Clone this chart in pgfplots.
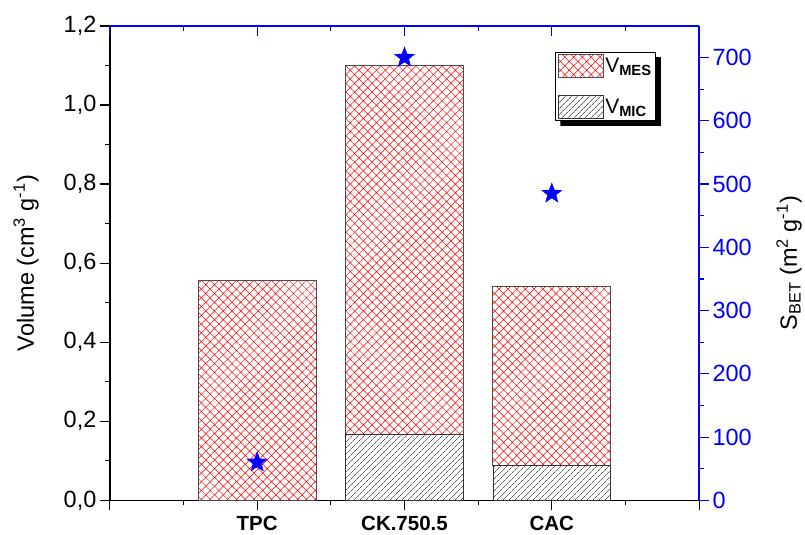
\documentclass[border=0pt]{standalone}
\usepackage{pgfplots}
\pgfplotsset{compat=1.18}
\usepackage{fontspec}
\setmainfont{Liberation Sans}
\usetikzlibrary{patterns.meta}
\pgfdeclareplotmark{fstar}{%
 \pgfpathmoveto{\pgfpointpolar{90}{\pgfplotmarksize}}%
 \pgfpathlineto{\pgfpointpolar{126}{0.42\pgfplotmarksize}}%
 \pgfpathlineto{\pgfpointpolar{162}{\pgfplotmarksize}}%
 \pgfpathlineto{\pgfpointpolar{198}{0.42\pgfplotmarksize}}%
 \pgfpathlineto{\pgfpointpolar{234}{\pgfplotmarksize}}%
 \pgfpathlineto{\pgfpointpolar{270}{0.42\pgfplotmarksize}}%
 \pgfpathlineto{\pgfpointpolar{306}{\pgfplotmarksize}}%
 \pgfpathlineto{\pgfpointpolar{342}{0.42\pgfplotmarksize}}%
 \pgfpathlineto{\pgfpointpolar{18}{\pgfplotmarksize}}%
 \pgfpathlineto{\pgfpointpolar{54}{0.42\pgfplotmarksize}}%
 \pgfpathclose
 \pgfusepathqfillstroke}
\begin{document}
\begin{tikzpicture}[font=\fontsize{23.5}{27}\selectfont]
\pgfplotsset{
  base/.style={
    width=590pt, height=475pt, scale only axis,
    xmin=0, xmax=4,
    /pgf/number format/assume math mode=true,
    major tick length=10pt, minor tick length=5pt,
    tick align=outside,
    axis line style={line width=1.4pt},
    every tick/.style={line width=1.2pt},
  }
}
\begin{axis}[base, name=ax,
  axis x line*=bottom, axis y line*=left,
  ymin=0, ymax=1.2,
  ytick={0,0.2,0.4,0.6,0.8,1.0,1.2},
  minor y tick num=1,
  xtick={0,1,2,3,4}, minor x tick num=1,
  xticklabels={,TPC,CK.750.5,CAC,},
  xticklabel style={font=\fontsize{20.5}{24}\selectfont\bfseries, yshift=-2pt},
  yticklabel style={/pgf/number format/.cd, use comma, fixed, fixed zerofill, precision=1},
  ylabel={Volume (cm\textsuperscript{3} g\textsuperscript{-1})},
  ylabel style={at={(axis description cs:0,0.5)}, anchor=center, yshift=84pt},
  ybar stacked, bar width=0.8,
  reverse legend,
  legend style={name=leg, at={(0.756,0.945)}, anchor=north west, draw=black, fill=white,
    line width=0.8pt, row sep=17pt, inner xsep=2pt, inner ysep=2pt,
    font=\fontsize{21}{24}\selectfont, cells={anchor=west}},
  legend image code/.code={\draw[#1,line width=0.6pt] (0pt,-11.5pt) rectangle (45pt,11.5pt);},
]
\addplot[draw=black!80, line width=0.6pt, pattern={Lines[angle=45,distance=4pt,line width=0.5pt]}, pattern color=black]
  coordinates {(1,0) (2,0.168) (3,0.088)};
\addlegendentry{V\textsubscript{\textbf{MIC}}}
\addplot[draw=black!70, line width=0.8pt, pattern={Hatch[angle=45,distance=6.2pt,line width=0.5pt]}, pattern color=red]
  coordinates {(1,0.557) (2,0.932) (3,0.453)};
\addlegendentry{V\textsubscript{\textbf{MES}}}
\end{axis}
\fill[black] ([shift={(0pt,-5pt)}]leg.north east) -- ([shift={(5pt,-5pt)}]leg.north east)
  -- ([shift={(5pt,-5pt)}]leg.south east) -- ([shift={(5pt,-5pt)}]leg.south west)
  -- ([shift={(5pt,0pt)}]leg.south west) -- (leg.south east) -- cycle;
\begin{axis}[base,
  axis x line=none, axis y line*=right,
  ymin=0, ymax=750,
  ytick={0,100,...,700}, minor y tick num=1,
  y axis line style={blue}, ytick style={blue}, minor y tick style={blue},
  yticklabel style={blue},
  ylabel={S\textsubscript{BET} (m\textsuperscript{2} g\textsuperscript{-1})},
  ylabel style={at={(axis description cs:1,0.5)}, anchor=center, yshift=-90pt},
]
\addplot[only marks, mark=fstar, mark size=10.5pt, blue, fill=blue]
  coordinates {(1,60) (2,700) (3,485)};
\end{axis}
\begin{axis}[base,
  axis x line*=top, axis y line=none,
  ymin=0, ymax=1,
  tick align=inside,
  xtick={0,1,2,3,4}, minor x tick num=1, xticklabels={},
  x axis line style={blue}, xtick style={blue}, minor x tick style={blue},
]
\end{axis}
\path ([xshift=-110pt,yshift=-34pt]ax.south west) rectangle ([xshift=105pt,yshift=26pt]ax.north east);
\end{tikzpicture}
\end{document}
